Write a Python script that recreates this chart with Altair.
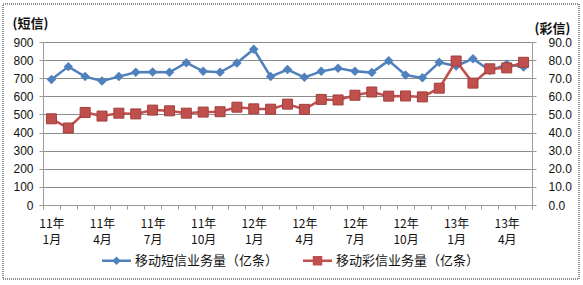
import altair as alt
import pandas as pd

years = ["11"] * 12 + ["12"] * 12 + ["13"] * 5
months = list(range(1, 13)) + list(range(1, 13)) + list(range(1, 6))
categories = [f"{y}年{m}月" for y, m in zip(years, months)]

sms = [693, 764, 709, 685, 709, 733, 735, 733, 786, 738,
       733, 784, 860, 709, 748, 705, 738, 755, 738, 731,
       797, 718, 702, 788, 767, 808, 742, 777, 762]
mms = [47.6, 42.5, 51.1, 49.1, 50.7, 50.3, 52.4, 52.0, 50.7, 51.3,
       51.5, 54.0, 53.1, 52.9, 55.7, 52.8, 58.3, 58.0, 60.6, 62.4,
       60.1, 60.2, 59.7, 64.5, 79.5, 67.3, 75.2, 75.7, 78.8]

S1 = "移动短信业务量（亿条）"
S2 = "移动彩信业务量（亿条）"
BLUE = "#4f81bd"
RED = "#c0504d"
CJK = "Noto Sans CJK SC"
NUM = "Liberation Sans"

df = pd.DataFrame({"cat": categories, "sms": sms, "mms": mms})

W, H = 489, 163

xenc = alt.X(
    "cat:O",
    sort=categories,
    bandPosition=0.5,
    scale=alt.Scale(type="band", paddingInner=0, paddingOuter=0),
    axis=alt.Axis(
        title=None,
        tickBand="extent",
        labelAngle=0,
        labelOverlap=False,
        labelExpr="test(regexp('年(1|4|7|10)月$'), datum.value) ? split(replace(datum.value, '年', '年|'), '|') : ''",
        labelFont=CJK,
        labelFontSize=12,
        labelLineHeight=16,
        labelColor="#111111",
        labelPadding=9,
        tickSize=4,
        tickColor="#9a9a9a",
        domainColor="#9a9a9a",
        grid=False,
    ),
)

color_scale = alt.Scale(domain=[S1, S2], range=[BLUE, RED])
shape_scale = alt.Scale(
    domain=[S1, S2],
    range=[
        "M-2.9,-0.25H2.9V0.25H-2.9ZM0,-0.85L0.85,0L0,0.85L-0.85,0Z",
        "M-2.9,-0.25H2.9V0.25H-2.9ZM-0.95,-0.95H0.95V0.95H-0.95Z",
    ],
)

legend = alt.Legend(
    title=None,
    orient="none",
    legendX=67,
    legendY=212,
    direction="horizontal",
    padding=0,
    symbolSize=100,
    symbolOpacity=1,
    symbolStrokeWidth=0,
    labelFont=CJK,
    labelFontSize=13,
    labelColor="#111111",
    labelOffset=12,
    columnPadding=24,
)

left_axis = alt.Axis(
    values=list(range(0, 1000, 100)),
    title="(短信)",
    titleAngle=0,
    titleAlign="left",
    titleBaseline="middle",
    titleX=-31,
    titleY=-19,
    titleFont=CJK,
    titleFontSize=13,
    titleFontWeight="bold",
    titleColor="#111111",
    labelFont=NUM,
    labelFontSize=12,
    labelColor="#111111",
    labelPadding=6,
    tickSize=4,
    tickColor="#9a9a9a",
    domainColor="#9a9a9a",
    grid=True,
    gridColor="#8c8c8c",
    gridWidth=1,
)

right_axis = alt.Axis(
    orient="right",
    values=list(range(0, 100, 10)),
    format=".1f",
    title="(彩信)",
    titleAngle=0,
    titleAlign="left",
    titleBaseline="middle",
    titleX=2,
    titleY=-14,
    titleFont=CJK,
    titleFontSize=13,
    titleFontWeight="bold",
    titleColor="#111111",
    labelFont=NUM,
    labelFontSize=12,
    labelColor="#111111",
    labelPadding=12,
    tickSize=4,
    tickColor="#9a9a9a",
    domainColor="#9a9a9a",
    grid=False,
)

base = alt.Chart(df)

y_left = alt.Y("sms:Q", scale=alt.Scale(domain=[0, 900], nice=False), axis=left_axis)
y_right = alt.Y("mms:Q", scale=alt.Scale(domain=[0, 90], nice=False), axis=right_axis)

blue_line = base.mark_line(color=BLUE, strokeWidth=2.5).encode(x=xenc, y=y_left)
blue_pts = base.mark_point(
    filled=True, size=90, opacity=1, shape="diamond", color=BLUE
).encode(x=xenc, y=y_left)
left = alt.layer(blue_line, blue_pts)

red_line = base.mark_line(color=RED, strokeWidth=2.5).encode(x=xenc, y=y_right)
red_pts = base.mark_point(
    filled=True, size=100, opacity=1, shape="square", color=RED,
    stroke="#a33f3c", strokeWidth=1,
).encode(x=xenc, y=y_right)
right = alt.layer(red_line, red_pts)

legend_df = pd.DataFrame({"series": [S1, S2]})
legend_layer = (
    alt.Chart(legend_df)
    .transform_filter("false")
    .mark_point(filled=True, opacity=1)
    .encode(
        color=alt.Color("series:N", scale=color_scale, legend=legend),
        shape=alt.Shape("series:N", scale=shape_scale, legend=legend),
    )
)

border = (
    alt.Chart(alt.Data(values=[{}]))
    .mark_rect(fill="transparent", stroke="#222222", strokeWidth=1, strokeDash=[1, 1])
    .encode(
        x=alt.value(-40),
        x2=alt.value(536),
        y=alt.value(-38),
        y2=alt.value(237),
    )
)

chart = (
    alt.layer(left, right, legend_layer, border)
    .resolve_scale(y="independent")
    .properties(
        width=W,
        height=H,
        autosize=alt.AutoSizeParams(type="none"),
        padding={"left": 43, "top": 42, "right": 583 - 43 - W, "bottom": 285 - 42 - H},
        background="white",
    )
    .configure_view(fill="#dbe6c4", stroke=None)
)

chart.save("out.html", embed_options={"renderer": "svg", "actions": False})
